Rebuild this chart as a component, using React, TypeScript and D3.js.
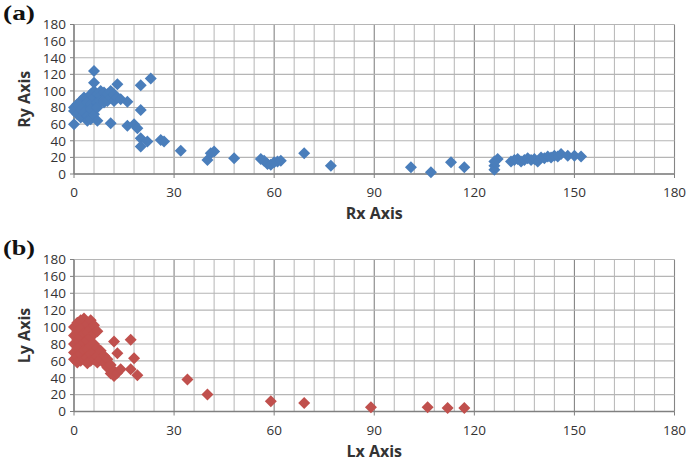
import React from "react";
import * as d3 from "d3";

// ---------- data ----------
const xTicks = [0, 30, 60, 90, 120, 150, 180];
const yTicks = [0, 20, 40, 60, 80, 100, 120, 140, 160, 180];

const rx = [
  0, 0, 0, 1, 1, 2, 2, 2, 3, 3, 3, 4, 4, 4, 4, 5, 5, 5, 5, 6, 6, 6, 6, 6, 7, 7, 7, 7, 8, 8, 8, 9, 9, 9, 10, 10, 11, 11, 11, 12, 12, 13,
  13, 14, 16, 16, 18, 19, 20, 20, 20, 20, 22, 23, 26, 27, 32, 40, 41, 42, 48, 56, 57, 58, 59, 60, 61, 62, 69, 77, 101, 107, 113, 117,
  126, 126, 126, 127, 131, 132, 133, 134, 135, 136, 137, 138, 139, 140, 141, 142, 143, 144, 145, 146, 148, 150, 152,
];
const ry = [
  60, 80, 76, 72, 84, 88, 78, 68, 92, 82, 74, 90, 86, 70, 64, 96, 84, 78, 66, 124, 110, 100, 92, 72, 96, 86, 80, 64, 100, 94, 88, 98,
  90, 86, 96, 88, 100, 92, 61, 96, 88, 108, 92, 90, 87, 58, 60, 55, 107, 77, 43, 33, 39, 115, 41, 39, 28, 17, 25, 27, 19, 18, 16, 12,
  11, 14, 15, 16, 25, 10, 8, 2, 14, 8, 5, 10, 15, 18, 15, 17, 18, 15, 17, 19, 17, 18, 15, 20, 19, 21, 20, 22, 21, 24, 22, 22, 21,
];

const lx = [
  0, 0, 0, 0, 0, 1, 1, 1, 1, 1, 1, 2, 2, 2, 2, 2, 2, 3, 3, 3, 3, 3, 3, 4, 4, 4, 4, 4, 4, 5, 5, 5, 5, 5, 5, 6, 6, 6, 6, 6, 7, 7, 7, 7,
  8, 8, 9, 9, 10, 10, 11, 11, 12, 12, 13, 14, 12, 17, 13, 18, 17, 19, 34, 40, 59, 69, 89, 106, 112, 117,
];
const ly = [
  100, 90, 80, 70, 62, 105, 95, 85, 75, 65, 58, 108, 98, 88, 78, 68, 60, 110, 100, 92, 82, 72, 62, 104, 94, 84, 74, 64, 57, 108, 98,
  88, 78, 68, 60, 102, 92, 80, 70, 62, 95, 75, 65, 58, 72, 62, 66, 57, 62, 52, 55, 45, 48, 42, 46, 50, 83, 85, 69, 63, 50, 43, 38,
  20, 12, 10, 5, 5, 4, 4,
];

const panels = [
  { tag: "(a)", xLabel: "Rx Axis", yLabel: "Ry Axis", xs: rx, ys: ry, color: "#4a7ebb", top: 24.5, bottom: 174 },
  { tag: "(b)", xLabel: "Lx Axis", yLabel: "Ly Axis", xs: lx, ys: ly, color: "#c0504d", top: 259.5, bottom: 411.5 },
];

const FONT = "'Open Sans', 'Liberation Sans', sans-serif";
const LEFT = 74;
const RIGHT = 674.5;

function Panel({ p }: { p: (typeof panels)[number] }) {
  const x = d3.scaleLinear().domain([0, 180]).range([LEFT, RIGHT]);
  const y = d3.scaleLinear().domain([0, 180]).range([p.bottom, p.top]);
  const minorX = d3.range(0, 181, 6);
  const minorY = d3.range(0, 181, 20);
  const r = 6;
  const diamond = (cx: number, cy: number) => `M${cx},${cy - r}L${cx + r},${cy}L${cx},${cy + r}L${cx - r},${cy}Z`;
  const midY = (p.top + p.bottom) / 2;
  return (
    <g>
      {minorX.map((v) => (
        <line
          key={"vx" + v}
          x1={x(v)}
          x2={x(v)}
          y1={y(0)}
          y2={y(180)}
          stroke={v % 30 === 0 ? "#858585" : "#bcbcbc"}
          strokeWidth={1.1}
        />
      ))}
      {minorY.map((v) => (
        <line key={"hy" + v} x1={x(0)} x2={x(180)} y1={y(v)} y2={y(v)} stroke="#b5b5b5" strokeWidth={1.1} />
      ))}
      <line x1={x(0)} x2={x(180)} y1={y(0)} y2={y(0)} stroke="#808080" strokeWidth={1.3} />
      <line x1={x(0)} x2={x(0)} y1={y(0)} y2={y(180)} stroke="#808080" strokeWidth={1.3} />
      {yTicks.map((v) => (
        <line key={"ty" + v} x1={x(0) - 4} x2={x(0)} y1={y(v)} y2={y(v)} stroke="#808080" strokeWidth={1} />
      ))}
      {xTicks.map((v) => (
        <line key={"tx" + v} x1={x(v)} x2={x(v)} y1={y(0)} y2={y(0) + 4} stroke="#808080" strokeWidth={1} />
      ))}
      {yTicks.map((v) => (
        <text
          key={"ly" + v}
          x={x(0) - 8}
          y={y(v)}
          dy="0.36em"
          textAnchor="end"
          fontFamily={FONT}
          fontSize={13.5}
          fill="#333"
        >
          {v}
        </text>
      ))}
      {xTicks.map((v) => (
        <text
          key={"lx" + v}
          x={x(v)}
          y={y(0) + 23}
          textAnchor="middle"
          fontFamily={FONT}
          fontSize={13.5}
          fill="#333"
        >
          {v}
        </text>
      ))}
      {p.xs.map((v, i) => (
        <path key={"m" + i} d={diamond(x(v), y(p.ys[i]))} fill={p.color} />
      ))}
      <text
        x={(x(0) + x(180)) / 2}
        y={y(0) + 45}
        textAnchor="middle"
        fontFamily={FONT}
        fontSize={16}
        fontWeight="bold"
        fill="#333"
      >
        {p.xLabel}
      </text>
      <text
        transform={`translate(30,${midY}) rotate(-90)`}
        textAnchor="middle"
        fontFamily={FONT}
        fontSize={16}
        fontWeight="bold"
        fill="#333"
      >
        {p.yLabel}
      </text>
      <text
        x={3}
        y={p.top - 5}
        fontFamily="'Liberation Serif', 'DejaVu Serif', serif"
        fontSize={21}
        fontWeight="bold"
        fill="#111"
        textLength={32}
        lengthAdjust="spacingAndGlyphs"
      >
        {p.tag}
      </text>
    </g>
  );
}

export default function App() {
  return (
    <svg
      width={689}
      height={461}
      style={{ position: "absolute", left: 0, top: 0, background: "#fff" }}
      xmlns="http://www.w3.org/2000/svg"
    >
      <rect width={689} height={461} fill="#fff" />
      {panels.map((p) => (
        <Panel key={p.tag} p={p} />
      ))}
    </svg>
  );
}
